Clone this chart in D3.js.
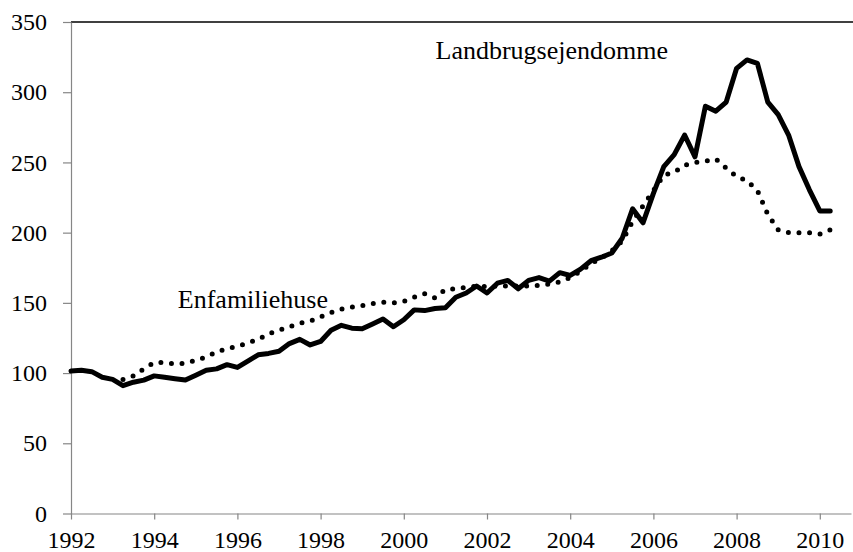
<!DOCTYPE html>
<html>
<head>
<meta charset="utf-8">
<script src="https://cdn.jsdelivr.net/npm/d3@7"></script>
<style>
  body { margin: 0; background: #fff; }
  text { font-family: "Liberation Serif", "Times New Roman", serif; fill: #000; }
  .axis path, .axis line { stroke: #868686; stroke-width: 1.2; }
</style>
</head>
<body>
<div id="chart"></div>
<script>

// quarterly index, first quarter = 1992
var startYear = 1992;

var yTicks = [0, 50, 100, 150, 200, 250, 300, 350];
var xTicks = [1992, 1994, 1996, 1998, 2000, 2002, 2004, 2006, 2008, 2010];

var landbrug = [
  101.5, 102, 101, 97, 95.5, 91, 93.5, 95,
  98, 97, 96, 95, 98.5, 102, 103, 106,
  104, 108.5, 113, 114, 115.5, 121, 124, 120,
  122.5, 130.5, 134, 132, 131.5, 135, 138.5, 133,
  138, 145, 144.5, 146, 146.5, 154, 157, 162,
  157, 164, 166, 160, 166, 168, 165.5, 171.5,
  169.5, 174, 180, 182.5, 185.5, 196, 217, 207,
  228, 247, 255.5, 269.5, 254, 290, 286.5, 293,
  317, 323, 320.5, 293, 284, 269.5, 247, 230.5,
  215.5, 215.5
];

var enfamilie = [
  null, null, null, null, null, 95.5, 98, 103,
  107.5, 107.5, 106.5, 107, 109, 111.5, 115, 117.5,
  119, 121.5, 124, 128, 130.5, 133, 135.5, 137,
  140, 143, 145.5, 147, 148, 149.5, 150.5, 150,
  151, 154, 156.5, 153.5, 159.5, 160, 161, 162,
  161.5, 162, 162, 162, 162, 162.5, 163.5, 165,
  168, 172.5, 178, 182, 187, 194, 208, 219,
  230, 241, 243, 248, 250, 251, 252.5, 246,
  240, 237, 230, 213, 202, 200, 200, 200,
  199, 202
];

var width = 853, height = 552;

var x = d3.scaleLinear()
  .domain([1992, 2010.75])
  .range([71, 851]);

var y = d3.scaleLinear()
  .domain([0, 350])
  .range([513.5, 22]);

var svg = d3.select("#chart").append("svg")
  .attr("width", width)
  .attr("height", height);

// top border
svg.append("line")
  .attr("x1", x(1992)).attr("x2", width)
  .attr("y1", y(350)).attr("y2", y(350))
  .attr("stroke", "#000")
  .attr("stroke-width", 1.5);

svg.append("g")
  .attr("class", "axis")
  .attr("transform", "translate(" + x(1992) + ",0)")
  .call(d3.axisLeft(y).tickValues(yTicks).tickSize(8).tickSizeOuter(0).tickPadding(16));

svg.append("g")
  .attr("class", "axis")
  .attr("transform", "translate(0," + y(0) + ")")
  .call(d3.axisBottom(x).tickValues(xTicks).tickFormat(d3.format("d"))
    .tickSize(6).tickSizeOuter(0).tickPadding(11));

// drop d3's default sans-serif and use the Times look
svg.selectAll(".axis")
  .attr("font-family", "Liberation Serif")
  .attr("font-size", 24);

svg.selectAll(".axis text")
  .attr("font-family", "Liberation Serif")
  .attr("font-size", 24)
  .attr("fill", "#000");

var line = d3.line()
  .defined(function (d) { return d != null; })
  .x(function (d, i) { return x(startYear + i / 4); })
  .y(function (d) { return y(d); });

svg.append("path")
  .datum(enfamilie)
  .attr("fill", "none")
  .attr("stroke", "#000")
  .attr("stroke-width", 5)
  .attr("stroke-linecap", "round")
  .attr("stroke-dasharray", "0 10.6")
  .attr("d", line);

svg.append("path")
  .datum(landbrug)
  .attr("fill", "none")
  .attr("stroke", "#000")
  .attr("stroke-width", 5)
  .attr("stroke-linejoin", "round")
  .attr("stroke-linecap", "round")
  .attr("d", line);

// series labels
svg.append("text")
  .attr("x", 668).attr("y", 59)
  .attr("text-anchor", "end")
  .style("font-size", "26px")
  .text("Landbrugsejendomme");

svg.append("text")
  .attr("x", 328).attr("y", 307.5)
  .attr("text-anchor", "end")
  .style("font-size", "26px")
  .text("Enfamiliehuse");

</script>
</body>
</html>
